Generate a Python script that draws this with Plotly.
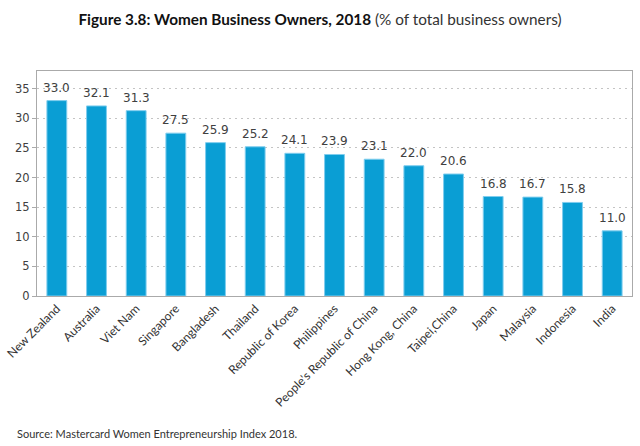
import plotly.graph_objects as go

countries = ["New Zealand", "Australia", "Viet Nam", "Singapore", "Bangladesh", "Thailand",
             "Republic of Korea", "Philippines", "People's Republic of China", "Hong Kong, China",
             "Taipei,China", "Japan", "Malaysia", "Indonesia", "India"]
values = [33.0, 32.1, 31.3, 27.5, 25.9, 25.2, 24.1, 23.9, 23.1, 22.0, 20.6, 16.8, 16.7, 15.8, 11.0]
y_ticks = [0, 5, 10, 15, 20, 25, 30, 35]

fig = go.Figure(go.Bar(
    x=countries, y=values,
    marker=dict(color="#0a9ed4", line=dict(color="#7fcdee", width=1)),
    width=0.5,
    hoverinfo="x+y",
))

L, R, T, B = 37, 8, 71, 150
PW, PH = 640 - L - R, 446 - T - B

annotations = [dict(
    x=c, y=v, xref="x", yref="y", text=f"{v:.1f}", showarrow=False,
    yanchor="bottom", yshift=4,
    font=dict(family="DejaVu Sans", size=12, color="#404040"),
) for c, v in zip(countries, values)]

annotations.append(dict(
    text="Source: Mastercard Women Entrepreneurship Index 2018.",
    xref="paper", yref="paper", showarrow=False,
    x=(15 - L) / PW, xanchor="left",
    y=-(433 - (T + PH)) / PH, yanchor="middle",
    font=dict(family="Lato", size=11, color="#333"),
))

fig.update_layout(
    width=640, height=446,
    margin=dict(l=L, r=R, t=T, b=B, autoexpand=False),
    paper_bgcolor="white", plot_bgcolor="white",
    showlegend=False,
    title=dict(
        text="<b>Figure 3.8: Women Business Owners, 2018</b> <span style='color:#333'>(% of total business owners)</span>",
        x=0.5, xanchor="center", y=0.955, yanchor="middle",
        font=dict(family="Lato", size=15.3, color="#111"),
    ),
    xaxis=dict(
        tickangle=-45, tickfont=dict(family="Lato", size=12, color="#333"),
        showline=True, linecolor="#aaaaaa", mirror=True, ticks="",
        showgrid=False, automargin=False,
    ),
    yaxis=dict(
        range=[0, 38], tickvals=y_ticks,
        tickfont=dict(family="DejaVu Sans", size=11.5, color="#404040"),
        showgrid=True, gridcolor="#c4c4c4", griddash="2px,4px", gridwidth=1,
        showline=True, linecolor="#aaaaaa", mirror=True,
        ticks="outside", ticklen=4, tickcolor="#aaaaaa",
        zeroline=False, automargin=False,
    ),
    annotations=annotations,
)

fig.write_html("out.html", config={"displayModeBar": False},
               post_script="document.body.style.margin='0';document.body.style.padding='0';")
